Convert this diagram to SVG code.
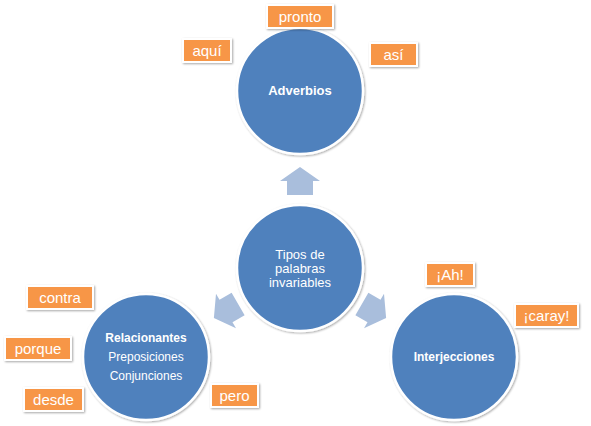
<svg xmlns="http://www.w3.org/2000/svg" width="591" height="426" viewBox="0 0 591 426">
<style>
.circ{fill:#4F81BD;stroke:#FFFFFF;stroke-width:2.5;filter:url(#sh)}
.box{fill:#F79646;stroke:#FFFFFF;stroke-width:2;filter:url(#sh)}
.arr{fill:#A9BEDC}
.t{font-family:"Liberation Sans",Arial,sans-serif;fill:#FFFFFF;text-anchor:middle}
.bt{font-size:15px}
.b{font-weight:bold;font-size:12px}
.n{font-size:13px}
.n12{font-size:12px}
</style>
<defs>
<filter id="sh" x="-20%" y="-20%" width="140%" height="140%">
<feGaussianBlur in="SourceAlpha" stdDeviation="1.2"/>
<feOffset dx="0.8" dy="1.2" result="o"/>
<feComponentTransfer><feFuncA type="linear" slope="0.35"/></feComponentTransfer>
<feMerge><feMergeNode/><feMergeNode in="SourceGraphic"/></feMerge>
</filter>
<path id="arrow" d="M-20,-14 L0,-14 L20,0 L-20,0 Z"/>
</defs>
<rect width="591" height="426" fill="#FFFFFF"/>
<g id="connectors">
<path class="arr" transform="translate(300,181)" d="M0,-14 L20,0 L13,0 L13,14 L-13,14 L-13,0 L-20,0 Z"/>
<path class="arr" transform="translate(226,311) rotate(-120)" d="M0,-14 L20,0 L13,0 L13,14 L-13,14 L-13,0 L-20,0 Z"/>
<path class="arr" transform="translate(374,311) rotate(120)" d="M0,-14 L20,0 L13,0 L13,14 L-13,14 L-13,0 L-20,0 Z"/>
</g>
<g id="adverbios">
<circle class="circ" cx="300" cy="91" r="63"/>
<text class="t b" style="font-size:13px" x="300" y="95">Adverbios</text>
</g>
<g id="tipos">
<circle class="circ" cx="300" cy="268" r="63"/>
<text class="t n" x="300" y="259">Tipos de</text>
<text class="t n" x="300" y="273">palabras</text>
<text class="t n" x="300" y="287">invariables</text>
</g>
<g id="relacionantes">
<circle class="circ" cx="146" cy="357" r="63"/>
<text class="t b" x="146" y="342">Relacionantes</text>
<text class="t n12" x="146" y="361">Preposiciones</text>
<text class="t n12" x="146" y="380">Conjunciones</text>
</g>
<g id="interjecciones">
<circle class="circ" cx="454" cy="357" r="63"/>
<text class="t b" x="454" y="361">Interjecciones</text>
</g>
<g id="pronto"><rect class="box" x="267" y="5" width="66" height="23"/><text class="t bt" x="300" y="22">pronto</text></g>
<g id="aqui"><rect class="box" x="183" y="39" width="48" height="23"/><text class="t bt" x="207" y="56">aquí</text></g>
<g id="asi"><rect class="box" x="370" y="43" width="47" height="23"/><text class="t bt" x="393.5" y="60">así</text></g>
<g id="contra"><rect class="box" x="27" y="286" width="66" height="23"/><text class="t bt" x="60" y="303">contra</text></g>
<g id="porque"><rect class="box" x="5" y="337" width="66" height="23"/><text class="t bt" x="38" y="354">porque</text></g>
<g id="desde"><rect class="box" x="24" y="388" width="59" height="23"/><text class="t bt" x="53.5" y="405">desde</text></g>
<g id="pero"><rect class="box" x="211" y="384" width="47" height="23"/><text class="t bt" x="234.5" y="401">pero</text></g>
<g id="ah"><rect class="box" x="426" y="263" width="48" height="23"/><text class="t bt" x="450" y="280">¡Ah!</text></g>
<g id="caray"><rect class="box" x="515" y="304" width="63" height="23"/><text class="t bt" x="546.5" y="321">¡caray!</text></g>
</svg>
